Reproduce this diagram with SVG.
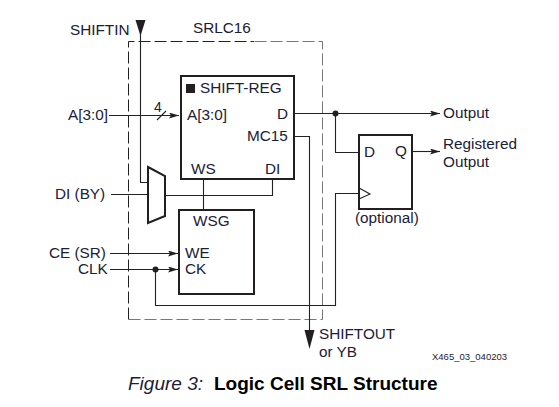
<svg xmlns="http://www.w3.org/2000/svg" width="559" height="407" viewBox="0 0 559 407">
<style>
text{font-family:"Liberation Sans",Arial,sans-serif;font-size:15.300px;fill:#1a2036}
.w{fill:none;stroke:#222;stroke-width:1.1}
.b{fill:#fff;stroke:#231f20;stroke-width:2}
.ah{fill:#231f20;stroke:none}
</style>
<defs>
<marker id="a" markerUnits="userSpaceOnUse" markerWidth="10" markerHeight="6" refX="10" refY="3" orient="auto"><path d="M0 0L10 3L0 6L2 3Z" class="ah"/></marker>
</defs>
<rect width="559" height="407" fill="#fff"/>
<path d="M128.500 319.500V41.500H254" fill="none" stroke="#222" stroke-width="1" stroke-dasharray="12 4"/>
<path d="M128.500 319.500H322.500V41.500H254" fill="none" stroke="#777" stroke-width="1" stroke-dasharray="12 4"/>
<g id="connectors">
<path class="w" d="M140.500 30V182.500H148"/>
<path class="w" d="M109 115.500H179" marker-end="url(#a)"/>
<path class="w" d="M157 120L166 111"/>
<path class="w" d="M111 194.500H148"/>
<path class="w" d="M165 195.500H272.500V179"/>
<path class="w" d="M203.500 179V210"/>
<path class="w" d="M110 253.500H178" marker-end="url(#a)"/>
<path class="w" d="M110 269.500H178" marker-end="url(#a)"/>
<path class="w" d="M155.500 269.500V305.500H335.500V193.500H359"/>
<path class="w" d="M295 113.500H440" marker-end="url(#a)"/>
<path class="w" d="M335.500 113.500V152.500H359"/>
<path class="w" d="M412 151.500H440" marker-end="url(#a)"/>
<path class="w" d="M295 136.500H309.500V330"/>
<circle cx="335.500" cy="113.500" r="3" fill="#231f20"/>
<circle cx="155.500" cy="269.500" r="3" fill="#231f20"/>
<path class="ah" d="M135.500 20H145.500L140.500 36Z"/>
<path class="ah" d="M304.500 330H314.500L309.500 349Z"/>
</g>
<g id="shift-reg">
<rect class="b" x="181" y="76" width="113" height="103"/>
<rect x="186" y="84" width="9" height="9" fill="#231f20"/>
<text x="200" y="93">SHIFT-REG</text>
<text x="187" y="120">A[3:0]</text>
<text x="277" y="119">D</text>
<text x="247" y="141">MC15</text>
<text x="191" y="174">WS</text>
<text x="265" y="174">DI</text>
</g>
<g id="mux"><path d="M148 167L165 176V216L148 223Z" fill="#fff" stroke="#231f20" stroke-width="2"/></g>
<g id="wsg">
<rect class="b" x="179" y="210" width="75" height="84"/>
<text x="193" y="226">WSG</text>
<text x="185" y="258">WE</text>
<text x="185" y="274">CK</text>
</g>
<g id="ff">
<rect class="b" x="359" y="135" width="53" height="74"/>
<path class="w" d="M359 188L370 194L359 199"/>
<text x="364" y="157">D</text>
<text x="395" y="156">Q</text>
<text x="355" y="223">(optional)</text>
</g>
<g id="labels">
<text x="70" y="35">SHIFTIN</text>
<text x="193" y="33">SRLC16</text>
<text x="68" y="120">A[3:0]</text>
<text x="154" y="112" style="font-size:14px">4</text>
<text x="55" y="199">DI (BY)</text>
<text x="49" y="258">CE (SR)</text>
<text x="78" y="274">CLK</text>
<text x="443" y="118">Output</text>
<text x="443" y="149">Registered</text>
<text x="443" y="167">Output</text>
<text x="319" y="339">SHIFTOUT</text>
<text x="319" y="357">or YB</text>
<text x="432" y="360" style="font-size:9.500px">X465_03_040203</text>
<text x="128" y="390" style="font-size:19px;font-style:italic">Figure 3:</text>
<text x="214" y="390" style="font-size:19px;font-weight:bold;fill:#000">Logic Cell SRL Structure</text>
</g>
</svg>
